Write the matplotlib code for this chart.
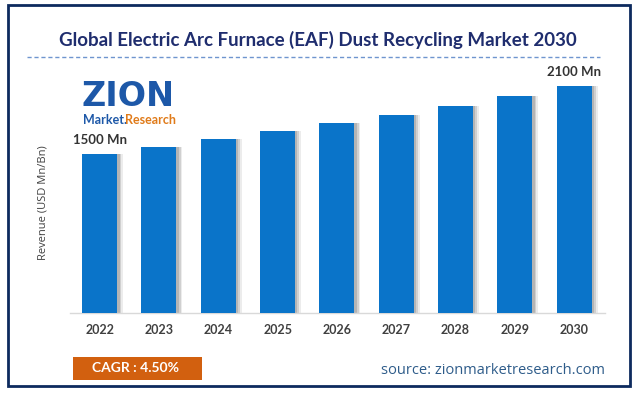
import matplotlib.pyplot as plt
from matplotlib.patches import Rectangle
from matplotlib.lines import Line2D

years = ['2022', '2023', '2024', '2025', '2026', '2027', '2028', '2029', '2030']
revenue = [1500, 1565, 1635, 1705, 1775, 1845, 1925, 2010, 2100]
first_label = '1500 Mn'
last_label = '2100 Mn'

W, H = 635, 393
fig = plt.figure(figsize=(W / 100, H / 100), dpi=100)
fig.patch.set_facecolor('white')

def fx(px):
    return px / W

def fy(py):
    return 1 - py / H

# outer frame
fig.add_artist(Rectangle((fx(8), fy(386)), fx(622), (386 - 5) / H, transform=fig.transFigure,
                         fill=False, edgecolor='#0d2a5e', linewidth=2))

# title + dashed rule
fig.text(fx(318), fy(40), 'Global Electric Arc Furnace (EAF) Dust Recycling Market 2030',
         ha='center', va='center', fontsize=13.5, fontweight='bold', color='#1f2d6e', family='Lato')
fig.add_artist(Line2D([fx(27), fx(600)], [fy(57), fy(57)], transform=fig.transFigure,
                      color='#6f95cf', linewidth=1, linestyle=(0, (3, 2))))

# bars
ax = fig.add_axes([fx(70), fy(313), fx(535), (313 - 60) / H])
x = list(range(len(years)))
# soft shadow on the right side of the bars
for off, a in [(0.10, 0.15), (0.07, 0.25), (0.04, 0.35)]:
    ax.bar([i + off for i in x], revenue, width=0.59, color='#808080', alpha=a, zorder=1)
ax.bar(x, revenue, width=0.59, color='#0a74c9', zorder=3)
ax.set_xlim(-0.5, 8.52)
ax.set_ylim(97, 2330)
for s in ['top', 'right', 'left']:
    ax.spines[s].set_visible(False)
ax.spines['bottom'].set_color('#d9d9d9')
ax.spines['bottom'].set_linewidth(1)
ax.set_yticks([])
ax.set_xticks(x)
ax.set_xticklabels(years, fontsize=9, fontweight='bold', color='#404040', family='Lato')
ax.tick_params(axis='x', length=0, pad=8)
ax.set_facecolor('none')
ax.text(x[0], revenue[0] + 70, first_label, ha='center', va='bottom', fontsize=9.5,
        fontweight='bold', color='#333333', family='Lato')
ax.text(x[-1], revenue[-1] + 70, last_label, ha='center', va='bottom', fontsize=9.5,
        fontweight='bold', color='#333333', family='Lato')

fig.text(fx(43), fy(203), 'Revenue (USD Mn/Bn)', rotation=90, ha='center', va='center',
         fontsize=8, color='#404040', family='Open Sans')

# logo (text approximation)
fig.text(fx(81), fy(97), 'ZION', ha='left', va='center', fontsize=24, fontweight='bold',
         color='#1d58a8', family='DejaVu Sans')
fig.text(fx(83), fy(120), 'Market.', ha='left', va='center', fontsize=9, fontweight='bold',
         color='#1d58a8', family='Lato')
fig.text(fx(125), fy(120), 'Research', ha='left', va='center', fontsize=9, fontweight='bold',
         color='#e07b1a', family='Lato')

# CAGR box and source
fig.add_artist(Rectangle((fx(73), fy(380)), fx(129), 23 / H, transform=fig.transFigure,
                         facecolor='#d2600f', edgecolor='none'))
fig.text(fx(135), fy(368), 'CAGR : 4.50%', ha='center', va='center', fontsize=10,
         fontweight='bold', color='white', family='Lato')
fig.text(fx(605), fy(370), 'source: zionmarketresearch.com', ha='right', va='center',
         fontsize=10.5, color='#2e5c8a', family='Open Sans')

fig.savefig('out.png', dpi=100)
